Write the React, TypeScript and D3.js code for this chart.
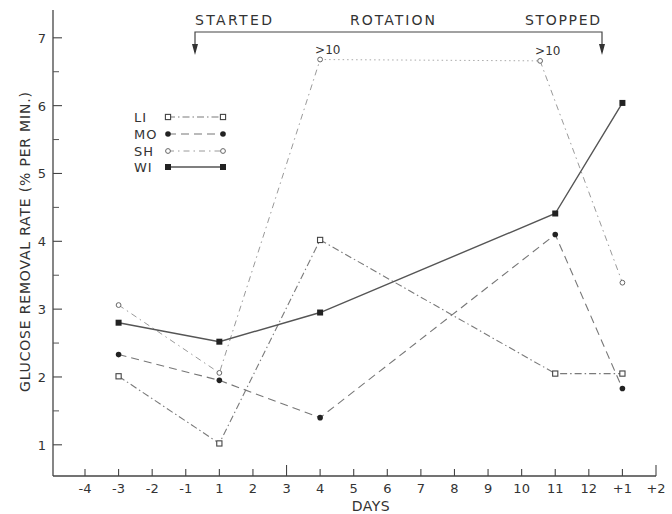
import React from "react";
import * as d3 from "d3";

const dayLabels = ["-4", "-3", "-2", "-1", "1", "2", "3", "4", "5", "6", "7", "8", "9", "10", "11", "12", "+1", "+2"];
const yMajor = [1, 2, 3, 4, 5, 6, 7];
const yMinor = [1.5, 2.5, 3.5, 4.5, 5.5, 6.5];

// x positions are expressed as indices into dayLabels
const sampleIdx = [1, 4, 7, 14, 16];
const shIdx = [1, 4, 7, 13.55, 16];

const LI = [2.01, 1.02, 4.02, 2.05, 2.05];
const MO = [2.33, 1.95, 1.4, 4.1, 1.83];
const SH = [3.06, 2.06, 6.68, 6.66, 3.39];
const WI = [2.8, 2.52, 2.95, 4.41, 6.04];
const shOffScale = [">10", ">10"];

const seriesNames = ["LI", "MO", "SH", "WI"];

const W = 672;
const H = 514;
const FONT = "'DejaVu Sans', 'Liberation Sans', sans-serif";
const INK = "#333";

export default function App() {
  const x = d3.scaleLinear().domain([0, 17]).range([85, 656]);
  const y = d3.scaleLinear().domain([0.54, 7.41]).range([476, 10]);
  const line = d3
    .line<[number, number]>()
    .x((d) => x(d[0]))
    .y((d) => y(d[1]));

  const pts = (idx: number[], vals: number[]) => idx.map((i, k) => [i, vals[k]] as [number, number]);
  const liPts = pts(sampleIdx, LI);
  const moPts = pts(sampleIdx, MO);
  const shPts = pts(shIdx, SH);
  const wiPts = pts(sampleIdx, WI);

  const styles: Record<string, { dash: string; stroke: string; width: number }> = {
    LI: { dash: "7,3,1.5,3", stroke: "#7a7a7a", width: 1.1 },
    MO: { dash: "8,5", stroke: "#777", width: 1.1 },
    SH: { dash: "6,4,1.5,4", stroke: "#9a9a9a", width: 1 },
    WI: { dash: "", stroke: "#555", width: 1.4 },
  };

  const marker = (name: string, cx: number, cy: number, key: string) => {
    if (name === "LI")
      return <rect key={key} x={cx - 2.6} y={cy - 2.6} width={5.2} height={5.2} fill="#fff" stroke="#444" strokeWidth={1.1} />;
    if (name === "MO") return <circle key={key} cx={cx} cy={cy} r={2.8} fill="#222" />;
    if (name === "SH") return <circle key={key} cx={cx} cy={cy} r={2.4} fill="#fff" stroke="#666" strokeWidth={1} />;
    return <rect key={key} x={cx - 3} y={cy - 3} width={6} height={6} fill="#222" />;
  };

  const legendY = [117, 134, 151, 167];
  const axisY = y.range()[0];
  const axisX = 53;

  return (
    <svg width={W} height={H} style={{ position: "absolute", left: 0, top: 0, background: "#fff" }} fontFamily={FONT}>
      <rect x={0} y={0} width={W} height={H} fill="#fff" />
      {/* Y axis */}
      <line x1={axisX} y1={10} x2={axisX} y2={axisY} stroke="#444" strokeWidth={1.3} />
      {yMajor.map((v) => (
        <g key={"ym" + v}>
          <line x1={axisX} x2={axisX + 9} y1={y(v)} y2={y(v)} stroke="#444" strokeWidth={1.1} />
          <text x={42} y={y(v) + 5} fontSize={13} fill={INK} textAnchor="middle">
            {v}
          </text>
        </g>
      ))}
      {yMinor.map((v) => (
        <line key={"yn" + v} x1={axisX} x2={axisX + 6} y1={y(v)} y2={y(v)} stroke="#555" strokeWidth={1} />
      ))}
      <text
        transform={`translate(30,${242}) rotate(-90)`}
        textAnchor="middle"
        fontSize={14}
        fill={INK}
        textLength={300}
        lengthAdjust="spacing"
      >
        GLUCOSE REMOVAL RATE (% PER MIN.)
      </text>

      {/* X axis */}
      <line x1={axisX} x2={x(17)} y1={axisY} y2={axisY} stroke="#444" strokeWidth={1.3} />
      {dayLabels.map((d, i) => (
        <g key={"xt" + i}>
          <line
            x1={x(i)}
            x2={x(i)}
            y1={axisY}
            y2={axisY - (d === "3" || d === "+2" ? 11 : 7)}
            stroke="#444"
            strokeWidth={1.1}
          />
          <text x={x(i)} y={axisY + 17} fontSize={13} fill={INK} textAnchor="middle">
            {d}
          </text>
        </g>
      ))}
      <text x={371} y={511} fontSize={14} fill={INK} textAnchor="middle" letterSpacing={0.5}>
        DAYS
      </text>

      {/* Rotation bracket */}
      <path d={`M195,52 V32 H602 V52`} fill="none" stroke="#444" strokeWidth={1.2} />
      <path d={`M192,44 L198,44 L195,55 Z`} fill="#333" />
      <path d={`M599,44 L605,44 L602,55 Z`} fill="#333" />
      <text x={195} y={25} fontSize={14} fill={INK} textLength={77} lengthAdjust="spacing">
        STARTED
      </text>
      <text x={350} y={25} fontSize={14} fill={INK} textLength={85} lengthAdjust="spacing">
        ROTATION
      </text>
      <text x={525} y={25} fontSize={14} fill={INK} textLength={75} lengthAdjust="spacing">
        STOPPED
      </text>

      {/* Series lines */}
      <path d={line(liPts) || ""} fill="none" stroke={styles.LI.stroke} strokeWidth={styles.LI.width} strokeDasharray={styles.LI.dash} />
      <path d={line(moPts) || ""} fill="none" stroke={styles.MO.stroke} strokeWidth={styles.MO.width} strokeDasharray={styles.MO.dash} />
      <path d={line(shPts.slice(0, 3)) || ""} fill="none" stroke={styles.SH.stroke} strokeWidth={styles.SH.width} strokeDasharray={styles.SH.dash} />
      <path d={line(shPts.slice(2, 4)) || ""} fill="none" stroke="#aaa" strokeWidth={1} strokeDasharray="1.5,3" />
      <path d={line(shPts.slice(3)) || ""} fill="none" stroke={styles.SH.stroke} strokeWidth={styles.SH.width} strokeDasharray={styles.SH.dash} />
      <path d={line(wiPts) || ""} fill="none" stroke={styles.WI.stroke} strokeWidth={styles.WI.width} />

      {/* Markers */}
      {liPts.map((p, k) => marker("LI", x(p[0]), y(p[1]), "li" + k))}
      {moPts.map((p, k) => marker("MO", x(p[0]), y(p[1]), "mo" + k))}
      {shPts.map((p, k) => marker("SH", x(p[0]), y(p[1]), "sh" + k))}
      {wiPts.map((p, k) => marker("WI", x(p[0]), y(p[1]), "wi" + k))}

      {/* >10 labels */}
      {[2, 3].map((k, j) => (
        <text key={"gt" + k} x={x(shPts[k][0]) - 5} y={y(shPts[k][1]) - 6} fontSize={12} fill={INK}>
          {shOffScale[j]}
        </text>
      ))}

      {/* Legend */}
      {seriesNames.map((n, i) => (
        <g key={"lg" + n}>
          <text x={134} y={legendY[i] + 5} fontSize={13} fill={INK} letterSpacing={1}>
            {n}
          </text>
          <line
            x1={168}
            x2={223}
            y1={legendY[i]}
            y2={legendY[i]}
            stroke={styles[n].stroke}
            strokeWidth={styles[n].width}
            strokeDasharray={styles[n].dash}
          />
          {marker(n, 168, legendY[i], "a")}
          {marker(n, 223, legendY[i], "b")}
        </g>
      ))}
    </svg>
  );
}
